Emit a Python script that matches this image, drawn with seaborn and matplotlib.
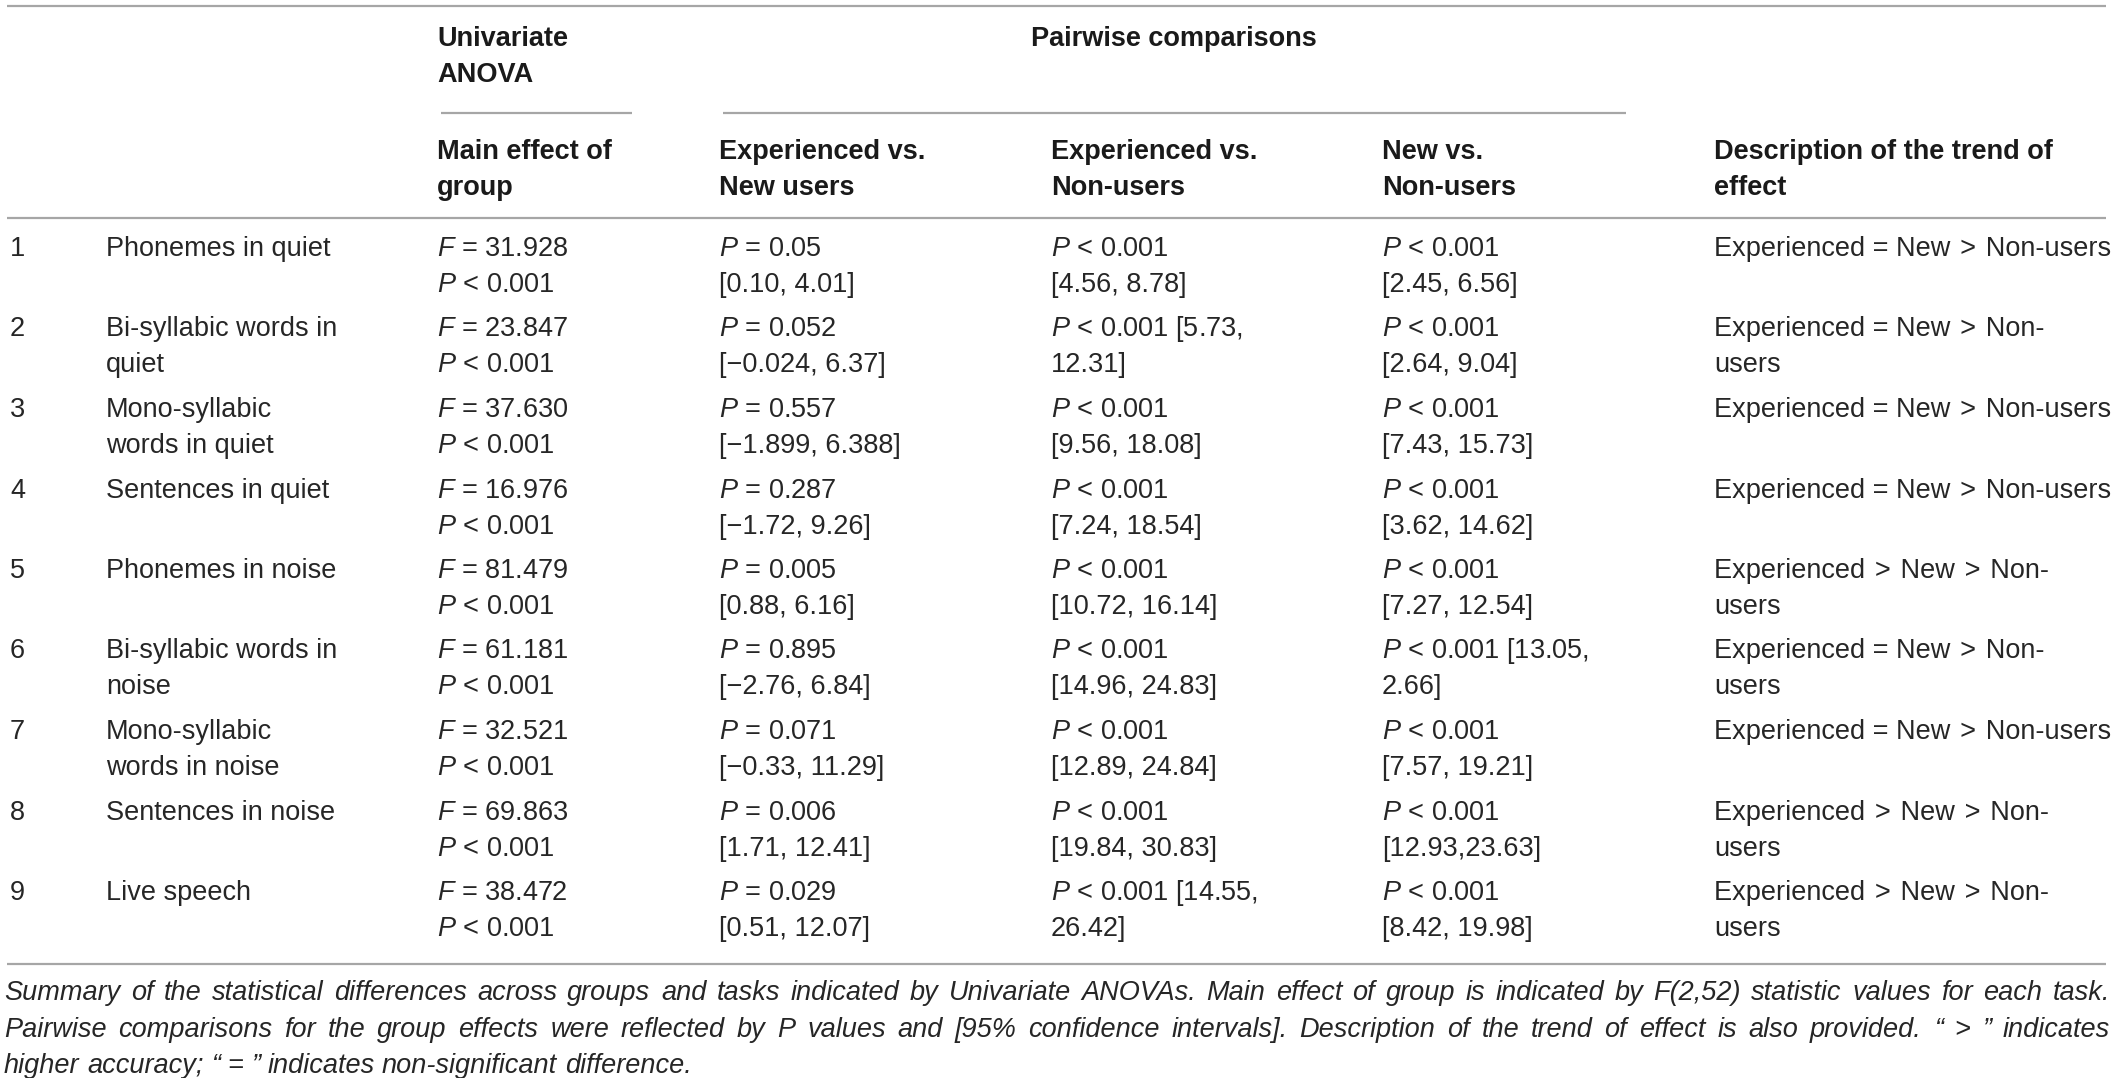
import matplotlib
matplotlib.use("Agg")
import matplotlib.pyplot as plt
import seaborn as sns

# ---- table content ----
row_nums = ["1", "2", "3", "4", "5", "6", "7", "8", "9"]
tasks = [
    "Phonemes in quiet",
    "Bi-syllabic words in\nquiet",
    "Mono-syllabic\nwords in quiet",
    "Sentences in quiet",
    "Phonemes in noise",
    "Bi-syllabic words in\nnoise",
    "Mono-syllabic\nwords in noise",
    "Sentences in noise",
    "Live speech",
]
anova_f = ["31.928", "23.847", "37.630", "16.976", "81.479",
           "61.181", "32.521", "69.863", "38.472"]
exp_new = [
    "$P$ = 0.05\n[0.10, 4.01]",
    "$P$ = 0.052\n[\u22120.024, 6.37]",
    "$P$ = 0.557\n[\u22121.899, 6.388]",
    "$P$ = 0.287\n[\u22121.72, 9.26]",
    "$P$ = 0.005\n[0.88, 6.16]",
    "$P$ = 0.895\n[\u22122.76, 6.84]",
    "$P$ = 0.071\n[\u22120.33, 11.29]",
    "$P$ = 0.006\n[1.71, 12.41]",
    "$P$ = 0.029\n[0.51, 12.07]",
]
exp_non = [
    "$P$ < 0.001\n[4.56, 8.78]",
    "$P$ < 0.001 [5.73,\n12.31]",
    "$P$ < 0.001\n[9.56, 18.08]",
    "$P$ < 0.001\n[7.24, 18.54]",
    "$P$ < 0.001\n[10.72, 16.14]",
    "$P$ < 0.001\n[14.96, 24.83]",
    "$P$ < 0.001\n[12.89, 24.84]",
    "$P$ < 0.001\n[19.84, 30.83]",
    "$P$ < 0.001 [14.55,\n26.42]",
]
new_non = [
    "$P$ < 0.001\n[2.45, 6.56]",
    "$P$ < 0.001\n[2.64, 9.04]",
    "$P$ < 0.001\n[7.43, 15.73]",
    "$P$ < 0.001\n[3.62, 14.62]",
    "$P$ < 0.001\n[7.27, 12.54]",
    "$P$ < 0.001 [13.05,\n2.66]",
    "$P$ < 0.001\n[7.57, 19.21]",
    "$P$ < 0.001\n[12.93,23.63]",
    "$P$ < 0.001\n[8.42, 19.98]",
]
trend = [
    "Experienced = New > Non-users",
    "Experienced = New > Non-\nusers",
    "Experienced = New > Non-users",
    "Experienced = New > Non-users",
    "Experienced > New > Non-\nusers",
    "Experienced = New > Non-\nusers",
    "Experienced = New > Non-users",
    "Experienced > New > Non-\nusers",
    "Experienced > New > Non-\nusers",
]
headers = ["Main effect of\ngroup", "Experienced vs.\nNew users",
           "Experienced vs.\nNon-users", "New vs.\nNon-users",
           "Description of the trend of\neffect"]
caption = [
    "Summary of the statistical differences across groups and tasks indicated by "
    "Univariate ANOVAs. Main effect of group is indicated by F(2,52) statistic values for each task.",
    "Pairwise comparisons for the group effects were reflected by P values and "
    "[95% confidence intervals]. Description of the trend of effect is also provided. \u201c > \u201d indicates",
    "higher accuracy; \u201c = \u201d indicates non-significant difference.",
]

sns.set_theme(style="white")
plt.rcParams["font.family"] = ["Liberation Sans", "DejaVu Sans"]
plt.rcParams["mathtext.fontset"] = "custom"
plt.rcParams["mathtext.rm"] = "Liberation Sans"
plt.rcParams["mathtext.it"] = "Liberation Sans:italic"
plt.rcParams["mathtext.bf"] = "Liberation Sans:bold"

W, H = 2118, 1078
FS = 19.5
TXT = "#262626"
HDR = "#1a1a1a"
LINE = "#a6a6a6"
LSP = 36
HAIR = "\u200a"

fig = plt.figure(figsize=(W / 100, H / 100), dpi=100)
ax = fig.add_axes([0, 0, 1, 1])
ax.set_xlim(0, W)
ax.set_ylim(H, 0)
ax.axis("off")


def put(x, y, s, ha="left", color=TXT, weight="normal"):
    for k, line in enumerate(s.split("\n")):
        line = line.replace(" > ", " " + HAIR + ">" + HAIR + " ")
        ax.text(x, y + k * LSP, line, va="baseline", ha=ha,
                fontsize=FS, color=color, fontweight=weight)


# rules
ax.hlines([6, 218, 964], 7, 2106, color=LINE, lw=1.6)
ax.hlines(113, 441, 632, color=LINE, lw=1.6)
ax.hlines(113, 723, 1626, color=LINE, lw=1.6)

# headers
col_x = [10, 106, 437, 719, 1051, 1382, 1714]
put(437, 46, "Univariate\nANOVA", color=HDR, weight="bold")
put(1174, 46, "Pairwise comparisons", ha="center", color=HDR, weight="bold")
for x, h in zip(col_x[2:], headers):
    put(x, 159, h, color=HDR, weight="bold")

# body
y0, pitch = 256, 80.5
for i in range(len(row_nums)):
    y = y0 + i * pitch
    put(col_x[0], y, row_nums[i])
    put(col_x[1], y, tasks[i])
    put(col_x[2], y, "$F$ = " + anova_f[i] + "\n$P$ < 0.001")
    put(col_x[3], y, exp_new[i])
    put(col_x[4], y, exp_non[i])
    put(col_x[5], y, new_non[i])
    put(col_x[6], y, trend[i])

# caption, justified like the journal layout
fig.canvas.draw()
rend = fig.canvas.get_renderer()
cap_y = [1000, 1037, 1073]
x0, x1 = 4, 2110
for j, line in enumerate(caption):
    words = line.split(" ")
    objs = [ax.text(0, cap_y[j], w, va="baseline", fontsize=FS, color=TXT,
                    fontstyle="italic") for w in words]
    widths = [o.get_window_extent(rend).width for o in objs]
    if j < len(caption) - 1:
        gap = (x1 - x0 - sum(widths)) / (len(words) - 1)
    else:
        gap = 7.5
    x = x0
    for o, w in zip(objs, widths):
        o.set_x(x)
        x += w + gap

fig.savefig("out.png", dpi=100)
